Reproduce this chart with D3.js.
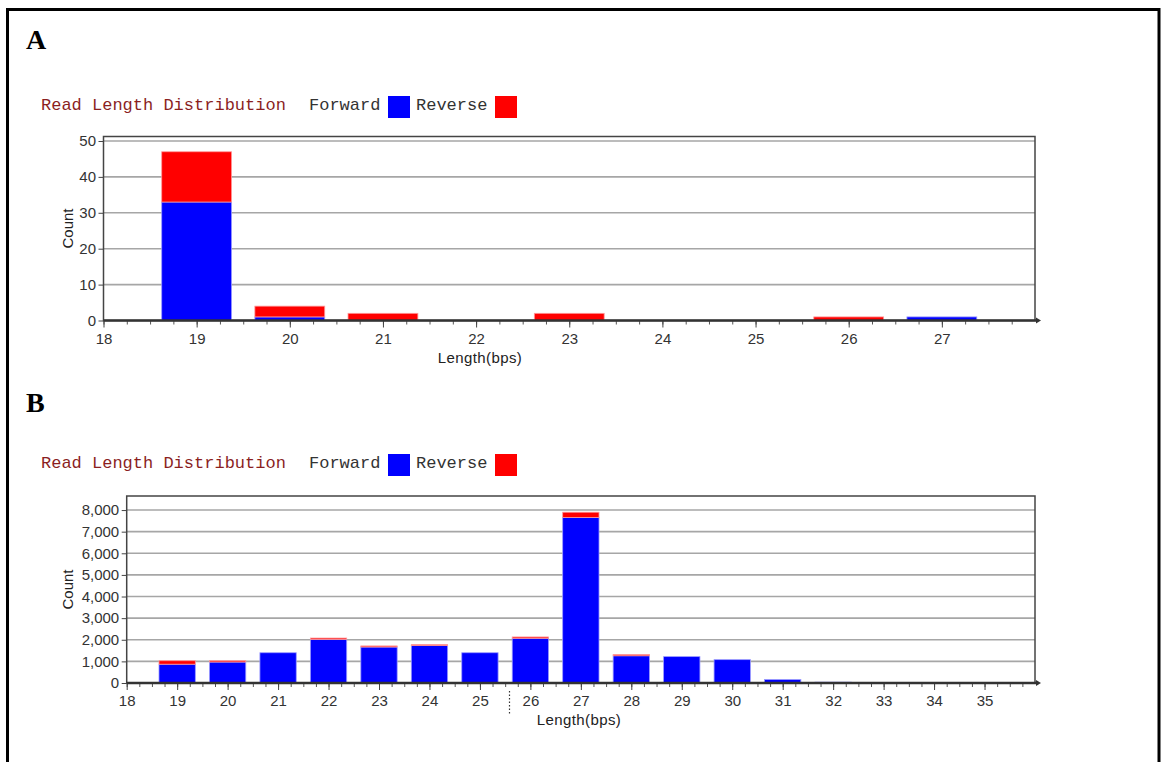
<!DOCTYPE html>
<html>
<head>
<meta charset="utf-8">
<script src="https://cdn.jsdelivr.net/npm/d3@7"></script>
<style>
  body { margin: 0; background: #fff; }
  svg { display: block; }
  .tick text { font-family: "Liberation Sans", Arial, sans-serif; font-size: 15px; fill: #333; }
</style>
</head>
<body>
<div id="figure"></div>
<script>
// read length distribution, panel A
var lengthsA = [19, 20, 21, 22, 23, 24, 25, 26, 27];
var forwardA = [33, 1, 0, 0, 0, 0, 0, 0, 1];
var reverseA = [14, 3, 2, 0, 2, 0, 0, 1, 0];

// panel B
var lengthsB = [19, 20, 21, 22, 23, 24, 25, 26, 27, 28, 29, 30, 31, 32, 33, 34, 35];
var forwardB = [870, 970, 1400, 2020, 1665, 1730, 1400, 2070, 7660, 1260, 1220, 1080, 160, 40, 0, 0, 0];
var reverseB = [160, 60, 0, 60, 50, 45, 0, 60, 240, 55, 0, 0, 0, 0, 0, 0, 0];

var seriesNames = ["Forward", "Reverse"];
var seriesColors = ["#0000ff", "#ff0000"];
var chartTitle = "Read Length Distribution";
var xTitle = "Length(bps)";
var yTitle = "Count";
var panelLetters = ["A", "B"];

var width = 1162, height = 762;

var svg = d3.select("#figure").append("svg")
    .attr("width", width)
    .attr("height", height);

// outer frame (no bottom edge in the picture, it runs off the page)
svg.append("rect")
    .attr("x", 7.5).attr("y", 9.5)
    .attr("width", 1151.5).attr("height", 800)
    .attr("fill", "none")
    .attr("stroke", "#000")
    .attr("stroke-width", 3);

function drawPanel(p) {
    var x = d3.scaleLinear().domain([18, p.xMax]).range([p.left, p.right]);
    var y = d3.scaleLinear().domain([0, p.yMax]).range([p.bottom, p.top]);

    // panel letter
    svg.append("text")
        .attr("x", 26).attr("y", p.letterY)
        .attr("font-family", "Liberation Serif, Times New Roman, serif")
        .attr("font-weight", "bold")
        .attr("font-size", 28)
        .text(p.letter);

    // title + legend line
    var mono = "Liberation Mono, Courier New, monospace";
    svg.append("text")
        .attr("x", 41).attr("y", p.legendY)
        .attr("font-family", mono).attr("font-size", 17)
        .attr("fill", "#8b1f1f")
        .text(chartTitle);
    var legX = [309, 416];
    seriesNames.forEach(function (name, i) {
        svg.append("text")
            .attr("x", legX[i]).attr("y", p.legendY)
            .attr("font-family", mono).attr("font-size", 17)
            .attr("fill", "#333")
            .text(name);
        svg.append("rect")
            .attr("x", legX[i] + 79).attr("y", p.legendY - 14)
            .attr("width", 22).attr("height", 22)
            .attr("fill", seriesColors[i]);
    });

    // gridlines
    var yTicks = d3.range(0, p.yMax, p.yStep);
    svg.append("g").selectAll("line")
        .data(yTicks.slice(1))
        .enter().append("line")
        .attr("x1", p.left).attr("x2", p.right)
        .attr("y1", function (d) { return y(d); })
        .attr("y2", function (d) { return y(d); })
        .attr("stroke", "#a6a6a6")
        .attr("stroke-width", 1.6);

    // plot frame
    svg.append("rect")
        .attr("x", p.left).attr("y", p.top)
        .attr("width", p.right - p.left).attr("height", p.bottom - p.top)
        .attr("fill", "none")
        .attr("stroke", "#444")
        .attr("stroke-width", 1.5);

    // stacked bars
    var rows = p.lengths.map(function (len, i) {
        return { len: len, Forward: p.forward[i], Reverse: p.reverse[i] };
    });
    var stacked = d3.stack().keys(seriesNames)(rows);
    var bw = x(18 + p.barWidth) - x(18);

    svg.append("g").selectAll("g")
        .data(stacked)
        .enter().append("g")
        .attr("fill", function (d, i) { return seriesColors[i]; })
        .attr("stroke", function (d, i) { return i === 0 ? "#9a9aff" : "#ff9a9a"; })
        .attr("stroke-width", 0.8)
        .selectAll("rect")
        .data(function (d) { return d.filter(function (s) { return s[1] > s[0]; }); })
        .enter().append("rect")
        .attr("x", function (d) { return x(d.data.len) - bw / 2; })
        .attr("width", bw)
        .attr("y", function (d) { return y(d[1]); })
        .attr("height", function (d) { return y(d[0]) - y(d[1]); });

    // y axis
    var yAxis = svg.append("g")
        .attr("transform", "translate(" + p.left + ",0)")
        .call(d3.axisLeft(y)
            .tickValues(yTicks)
            .tickSize(5)
            .tickPadding(2.5)
            .tickFormat(d3.format(",")));
    yAxis.select(".domain").remove();
    yAxis.selectAll(".tick line").attr("stroke", "#444");

    // x axis: minor quarter ticks, then majors
    var minor = svg.append("g")
        .attr("transform", "translate(0," + p.bottom + ")")
        .call(d3.axisBottom(x)
            .tickValues(d3.range(18, p.xMax, 0.25))
            .tickSize(4)
            .tickFormat(""));
    minor.select(".domain").remove();
    minor.selectAll(".tick line").attr("stroke", "#555");

    var xAxis = svg.append("g")
        .attr("transform", "translate(0," + p.bottom + ")")
        .call(d3.axisBottom(x)
            .tickValues(d3.range(18, p.xMax))
            .tickSize(7)
            .tickPadding(5.5)
            .tickFormat(d3.format("d")));
    xAxis.select(".domain").remove();
    xAxis.selectAll(".tick line").attr("stroke", "#444");

    // heavy baseline with small arrow
    svg.append("line")
        .attr("x1", p.left).attr("x2", p.right + 2)
        .attr("y1", p.bottom).attr("y2", p.bottom)
        .attr("stroke", "#333")
        .attr("stroke-width", 2.6);
    svg.append("path")
        .attr("d", "M" + (p.right + 1) + "," + (p.bottom - 3) + "L" + (p.right + 6) + "," + p.bottom + "L" + (p.right + 1) + "," + (p.bottom + 3) + "Z")
        .attr("fill", "#333");

    // axis titles
    svg.append("text")
        .attr("x", p.xTitleX).attr("y", p.bottom + 42)
        .attr("text-anchor", "middle")
        .attr("font-family", "Liberation Sans, Arial, sans-serif")
        .attr("font-size", 15)
        .attr("letter-spacing", 0.4)
        .attr("fill", "#222")
        .text(xTitle);
    svg.append("text")
        .attr("transform", "translate(73," + ((p.top + p.bottom) / 2) + ") rotate(-90)")
        .attr("text-anchor", "middle")
        .attr("font-family", "Liberation Sans, Arial, sans-serif")
        .attr("font-size", 15)
        .attr("fill", "#222")
        .text(yTitle);

    return x;
}

drawPanel({
    letter: panelLetters[0], letterY: 49, legendY: 110,
    left: 103.5, right: 1035, top: 136.5, bottom: 320.5,
    xMax: 28, yMax: 51.25, yStep: 10, barWidth: 0.75, xTitleX: 480,
    lengths: lengthsA, forward: forwardA, reverse: reverseA
});

drawPanel({
    letter: panelLetters[1], letterY: 412, legendY: 468,
    left: 126.7, right: 1035, top: 496, bottom: 683,
    xMax: 36, yMax: 8650, yStep: 1000, barWidth: 0.72, xTitleX: 579,
    lengths: lengthsB, forward: forwardB, reverse: reverseB
});

// stray dotted mark under panel B's axis
svg.append("line")
    .attr("x1", 509.5).attr("x2", 509.5)
    .attr("y1", 691).attr("y2", 715)
    .attr("stroke", "#333")
    .attr("stroke-width", 1.2)
    .attr("stroke-dasharray", "1.5,2");
</script>
</body>
</html>
